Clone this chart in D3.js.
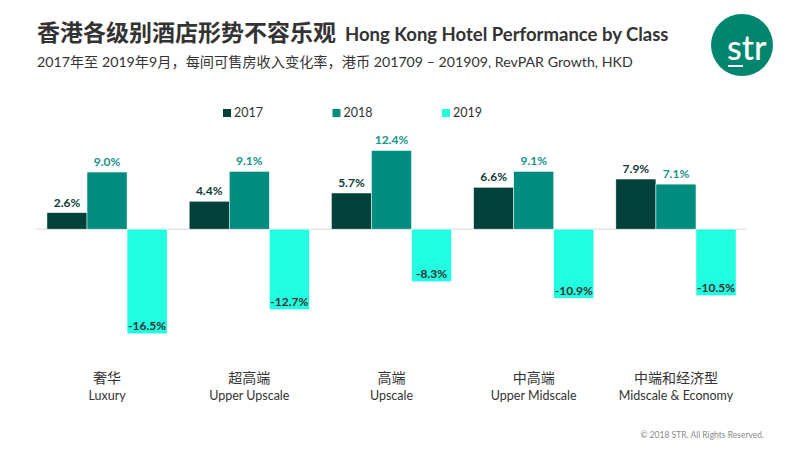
<!DOCTYPE html>
<html>
<head>
<meta charset="utf-8">
<script src="https://cdn.jsdelivr.net/npm/d3@7"></script>
<style>
  body { margin: 0; background: #fff; }
  svg { display: block; }
</style>
</head>
<body>
<div id="chart"></div>
<script>
// data
const categoriesZh = ["奢华", "超高端", "高端", "中高端", "中端和经济型"];
const categoriesEn = ["Luxury", "Upper Upscale", "Upscale", "Upper Midscale", "Midscale & Economy"];
const years = ["2017", "2018", "2019"];
const values2017 = [2.6, 4.4, 5.7, 6.6, 7.9];
const values2018 = [9.0, 9.1, 12.4, 9.1, 7.1];
const values2019 = [-16.5, -12.7, -8.3, -10.9, -10.5];

const barColors = ["#024139", "#008d80", "#22ffe0"];
const labelColors = ["#0e3c36", "#159487", "#333333"];

const width = 800, height = 450;
const cjk = "'Noto Sans CJK SC', 'Noto Sans', sans-serif";
const latin = "Lato, 'Noto Sans CJK SC', sans-serif";

const svg = d3.select("#chart")
  .append("svg")
  .attr("width", width)
  .attr("height", height);

// titles
const title = svg.append("text")
  .attr("x", 37)
  .attr("y", 41)
  .style("fill", "#333");
title.append("tspan")
  .style("font-family", cjk)
  .style("font-size", "23px")
  .style("font-weight", "bold")
  .text("香港各级别酒店形势不容乐观");
title.append("tspan")
  .attr("dx", 9)
  .style("font-family", latin)
  .style("font-size", "18.5px")
  .style("font-weight", "bold")
  .text("Hong Kong Hotel Performance by Class");

svg.append("text")
  .attr("x", 37)
  .attr("y", 67)
  .style("font-family", latin)
  .style("font-size", "14.2px")
  .style("fill", "#333")
  .text("2017年至 2019年9月，每间可售房收入变化率，港币 201709 – 201909, RevPAR Growth, HKD");

// logo
const logo = svg.append("g").attr("transform", "translate(742,45)");
logo.append("circle").attr("r", 31).style("fill", "#00866f");
logo.append("text")
  .attr("x", -15)
  .attr("y", 15)
  .style("font-family", latin)
  .style("font-size", "34px")
  .style("font-weight", 500)
  .style("fill", "#fff")
  .text("str");
logo.append("rect")
  .attr("x", -14)
  .attr("y", 20)
  .attr("width", 15)
  .attr("height", 2)
  .style("fill", "#fff");

// legend
const legend = svg.append("g")
  .selectAll("g")
  .data(years)
  .join("g")
  .attr("transform", (d, i) => `translate(${223 + i * 109.5},109)`);
legend.append("rect")
  .attr("width", 8)
  .attr("height", 8)
  .style("fill", (d, i) => barColors[i]);
legend.append("text")
  .attr("x", 11)
  .attr("y", 8)
  .style("font-family", latin)
  .style("font-size", "12.5px")
  .style("fill", "#333")
  .text((d) => d);

// scales
const x = d3.scaleBand()
  .domain(categoriesEn)
  .range([36, 747])
  .paddingInner(0.155)
  .paddingOuter(0.077);
const xInner = d3.scaleBand()
  .domain(years)
  .range([0, x.bandwidth()]);
const y = d3.scaleLinear()
  .domain([-20, 15])
  .range([356, 134]);

const series = [values2017, values2018, values2019];
const rows = [];
categoriesEn.forEach((c, ci) => {
  years.forEach((yr, yi) => {
    rows.push({ cat: c, year: yr, yi: yi, value: series[yi][ci] });
  });
});

// zero line
svg.append("line")
  .attr("x1", 36)
  .attr("x2", 747)
  .attr("y1", y(0))
  .attr("y2", y(0))
  .style("stroke", "#d9d9d9")
  .style("stroke-width", 1);

const chart = svg.append("g");

chart.selectAll(".bar")
  .data(rows)
  .join("rect")
  .attr("class", "bar")
  .attr("x", (d) => x(d.cat) + xInner(d.year))
  .attr("width", xInner.bandwidth())
  .attr("y", (d) => y(Math.max(0, d.value)))
  .attr("height", (d) => Math.abs(y(d.value) - y(0)))
  .style("fill", (d) => barColors[d.yi])
  .style("stroke", "#fff")
  .style("stroke-width", 0.5);

chart.selectAll(".label")
  .data(rows)
  .join("text")
  .attr("class", "label")
  .attr("x", (d) => x(d.cat) + xInner(d.year) + xInner.bandwidth() / 2)
  .attr("y", (d) => d.value >= 0 ? y(d.value) - 6 : y(d.value) - 3.5)
  .attr("text-anchor", "middle")
  .style("font-family", latin)
  .style("font-size", "12px")
  .style("font-weight", "bold")
  .style("fill", (d) => labelColors[d.yi])
  .text((d) => d.value.toFixed(1) + "%");

// category labels
const cats = svg.append("g")
  .selectAll("g")
  .data(categoriesEn)
  .join("g")
  .attr("transform", (d) => `translate(${x(d) + x.bandwidth() / 2},0)`);
cats.append("text")
  .attr("y", 383)
  .attr("text-anchor", "middle")
  .style("font-family", cjk)
  .style("font-size", "14px")
  .style("fill", "#333")
  .text((d, i) => categoriesZh[i]);
cats.append("text")
  .attr("y", 400)
  .attr("text-anchor", "middle")
  .style("font-family", latin)
  .style("font-size", "12.5px")
  .style("fill", "#333")
  .text((d) => d);

svg.append("text")
  .attr("x", 764)
  .attr("y", 438)
  .attr("text-anchor", "end")
  .style("font-family", latin)
  .style("font-size", "8.5px")
  .style("fill", "#8a8a8a")
  .text("© 2018 STR. All Rights Reserved.");
</script>
</body>
</html>
